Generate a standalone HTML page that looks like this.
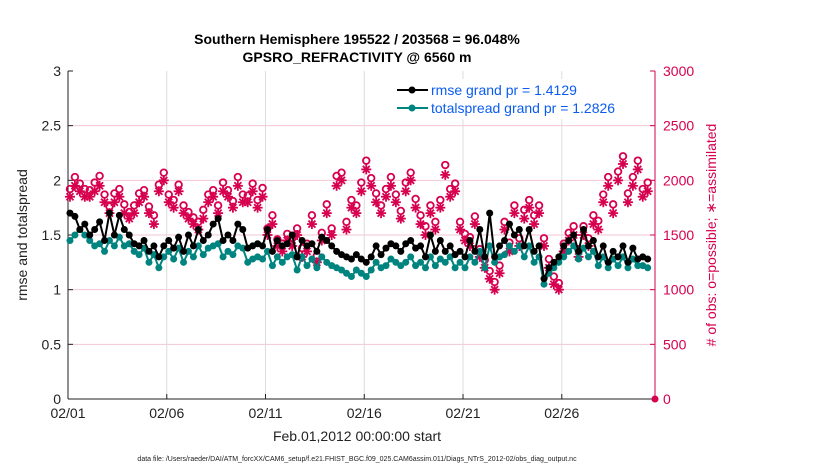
<!DOCTYPE html>
<html><head><meta charset="utf-8"><style>
body{margin:0;background:#fff;}
svg text{font-family:"Liberation Sans",sans-serif;}
</style></head><body>
<svg id="chart" width="830" height="470" xmlns="http://www.w3.org/2000/svg">
<rect width="830" height="470" fill="#fff"/>
<g id="grid"></g>
<g id="axes"></g>
<g id="series"></g>
<text x="357" y="44" text-anchor="middle" font-size="14" font-weight="bold">Southern Hemisphere 195522 / 203568 = 96.048%</text>
<text x="357" y="62" text-anchor="middle" font-size="14" font-weight="bold">GPSRO_REFRACTIVITY @ 6560 m</text>
<text x="357" y="441" text-anchor="middle" font-size="14" fill="#222">Feb.01,2012 00:00:00 start</text>
<text x="357" y="461" text-anchor="middle" font-size="7" fill="#222">data file: /Users/raeder/DAI/ATM_forcXX/CAM6_setup/f.e21.FHIST_BGC.f09_025.CAM6assim.011/Diags_NTrS_2012-02/obs_diag_output.nc</text>
<text transform="translate(27,235) rotate(-90)" text-anchor="middle" font-size="14" fill="#222">rmse and totalspread</text>
<text transform="translate(716,235) rotate(-90)" text-anchor="middle" font-size="14" fill="#d6004f"># of obs: o=possible; ∗=assimilated</text>
<g>
<rect x="388" y="79" width="264" height="40" fill="#fff"/>
<line x1="397" y1="90" x2="428" y2="90" stroke="#000" stroke-width="2"/><circle cx="412" cy="90" r="3.5" fill="#000"/>
<text x="431" y="95" font-size="14" fill="#0b5cf0">rmse grand pr = 1.4129</text>
<line x1="397" y1="108" x2="428" y2="108" stroke="#00847f" stroke-width="2"/><circle cx="412" cy="108" r="3.5" fill="#00847f"/>
<text x="431" y="113" font-size="14" fill="#0b5cf0">totalspread grand pr = 1.2826</text>
</g>
</svg>
<script>
const xTickLabels=["02/01","02/06","02/11","02/16","02/21","02/26"];
const xTickDays=[0,5,10,15,20,25];
const yLeftTicks=[0,0.5,1,1.5,2,2.5,3];
const yRightTicks=[0,500,1000,1500,2000,2500,3000];
const rmse=[1.7,1.67,1.55,1.6,1.5,1.55,1.62,1.45,1.7,1.5,1.68,1.55,1.5,1.42,1.4,1.45,1.35,1.4,1.3,1.4,1.45,1.38,1.48,1.35,1.5,1.4,1.55,1.45,1.5,1.6,1.65,1.45,1.5,1.45,1.6,1.55,1.38,1.4,1.42,1.4,1.55,1.35,1.45,1.4,1.42,1.5,1.3,1.45,1.4,1.42,1.35,1.48,1.45,1.4,1.35,1.32,1.3,1.28,1.32,1.28,1.25,1.3,1.4,1.32,1.38,1.42,1.4,1.35,1.42,1.45,1.38,1.4,1.3,1.5,1.35,1.45,1.35,1.4,1.32,1.35,1.3,1.45,1.35,1.55,1.3,1.7,1.3,1.4,1.45,1.6,1.5,1.55,1.4,1.55,1.35,1.4,1.1,1.2,1.25,1.3,1.4,1.45,1.5,1.35,1.55,1.4,1.45,1.3,1.4,1.25,1.35,1.3,1.4,1.25,1.38,1.28,1.3,1.28];
const spread=[1.45,1.5,1.55,1.5,1.45,1.4,1.42,1.35,1.45,1.4,1.48,1.4,1.42,1.35,1.32,1.38,1.25,1.32,1.2,1.3,1.35,1.28,1.38,1.25,1.35,1.3,1.4,1.32,1.38,1.4,1.42,1.3,1.35,1.32,1.4,1.38,1.25,1.28,1.3,1.28,1.35,1.22,1.3,1.25,1.3,1.32,1.18,1.3,1.22,1.28,1.2,1.3,1.25,1.22,1.2,1.18,1.15,1.12,1.18,1.15,1.12,1.18,1.25,1.2,1.22,1.28,1.25,1.22,1.25,1.3,1.22,1.25,1.2,1.3,1.22,1.28,1.25,1.3,1.2,1.25,1.2,1.3,1.25,1.35,1.2,1.4,1.25,1.3,1.32,1.4,1.35,1.4,1.3,1.4,1.25,1.3,1.05,1.15,1.2,1.25,1.3,1.35,1.4,1.28,1.38,1.3,1.35,1.22,1.3,1.2,1.28,1.22,1.3,1.2,1.28,1.22,1.22,1.2];
const assimilated=[1850,1950,1900,1850,1850,1900,1950,1800,1700,1800,1850,1700,1650,1700,1800,1850,1700,1600,1900,2000,1800,1750,1900,1700,1650,1600,1550,1650,1800,1850,1700,1900,1850,1750,1950,1800,1800,1900,1750,1850,1500,1600,1400,1350,1450,1400,1500,1300,1350,1600,1250,1450,1700,1500,1950,2000,1550,1750,1700,1900,2100,1950,1800,1700,1850,1950,1800,1650,1900,2000,1750,1600,1500,1700,1550,1750,2050,1850,1900,1550,1450,1400,1600,1300,1200,1100,1000,1150,1550,1350,1700,1400,1650,1750,1600,1700,1400,1200,1050,1000,1350,1450,1500,1300,1500,1400,1600,1550,1800,1950,1700,2000,2150,1800,1950,2100,1850,1900];
const possible=[1920,2030,1970,1920,1910,1980,2040,1870,1760,1880,1920,1780,1710,1770,1880,1910,1760,1680,1960,2070,1870,1820,1960,1770,1710,1660,1620,1730,1870,1910,1770,1980,1910,1810,2030,1870,1860,1970,1820,1930,1560,1680,1460,1420,1510,1470,1560,1380,1420,1680,1310,1520,1780,1560,2040,2070,1620,1820,1770,1980,2180,2020,1880,1770,1920,2030,1870,1720,1980,2070,1830,1680,1580,1770,1620,1820,2140,1920,1970,1620,1510,1480,1670,1370,1270,1170,1070,1220,1620,1430,1770,1470,1730,1820,1680,1770,1470,1280,1120,1060,1420,1520,1580,1370,1580,1470,1680,1630,1870,2030,1780,2080,2220,1880,2030,2180,1920,1980];

const L=68,R=655,T=71,B=399,DMAX=29.72;
const xs=d=>L+(d/DMAX)*(R-L);
const yl=v=>B-(v/3)*(B-T);
const yr=v=>B-(v/3000)*(B-T);
const NS="http://www.w3.org/2000/svg";
function mk(tag,attrs,parent){const e=document.createElementNS(NS,tag);for(const k in attrs)e.setAttribute(k,attrs[k]);parent.appendChild(e);return e;}
const grid=document.getElementById('grid'),axes=document.getElementById('axes'),ser=document.getElementById('series');

yLeftTicks.forEach((v,i)=>{
  if(v>0&&v<3){const g=mk('line',{x1:L,x2:R,y1:yl(v),y2:yl(v),stroke:'#f3c6d6','stroke-width':1},grid);
  
  }
  const t=mk('text',{x:L-7,y:yl(v)+5,'text-anchor':'end','font-size':14,fill:'#222'},axes);t.textContent=v;
  
  
  mk('line',{x1:L,x2:L+5,y1:yl(v),y2:yl(v),stroke:'#222'},axes);
});
yRightTicks.forEach(v=>{
  const t=mk('text',{x:R+8,y:yr(v)+5,'font-size':14,fill:'#d6004f'},axes);t.textContent=v;
  
  
  mk('line',{x1:R-5,x2:R,y1:yr(v),y2:yr(v),stroke:'#d6004f'},axes);
});
xTickDays.forEach((d,i)=>{
  if(d>0){const g=mk('line',{x1:xs(d),x2:xs(d),y1:T,y2:B,stroke:'#dcdcdc'},grid);
  
  }
  mk('line',{x1:xs(d),x2:xs(d),y1:B,y2:B-5,stroke:'#222'},axes);
  const t=mk('text',{x:xs(d),y:B+19,'text-anchor':'middle','font-size':14,fill:'#222'},axes);t.textContent=xTickLabels[i];
  
  
});
mk('line',{x1:L,x2:L,y1:T,y2:B,stroke:'#222'},axes);
mk('line',{x1:L,x2:R,y1:B,y2:B,stroke:'#222'},axes);
mk('line',{x1:R,x2:R,y1:T,y2:B,stroke:'#d6004f'},axes);

function star(cx,cy,parent){
  const g=mk('g',{stroke:'#d6004f','stroke-width':1.8},parent);
  
  
  const r=5;
  mk('line',{x1:cx-r,x2:cx+r,y1:cy,y2:cy},g);
  mk('line',{x1:cx,x2:cx,y1:cy-r,y2:cy+r},g);
  mk('line',{x1:cx-3.5,x2:cx+3.5,y1:cy-3.5,y2:cy+3.5},g);
  mk('line',{x1:cx-3.5,x2:cx+3.5,y1:cy+3.5,y2:cy-3.5},g);
}
possible.forEach((v,i)=>{
  const c=mk('circle',{cx:xs(i*0.25+0.1),cy:yr(v),r:3.3,fill:'none',stroke:'#d6004f','stroke-width':1.8},ser);
  
  
});
assimilated.forEach((v,i)=>star(xs(i*0.25+0.1),yr(v),ser));

function line(arr,color,name){
  const pts=arr.map((v,i)=>xs(i*0.25+0.1)+','+yl(v)).join(' ');
  const p=mk('polyline',{points:pts,fill:'none',stroke:color,'stroke-width':2},ser);
  
  
  arr.forEach((v,i)=>{
    const c=mk('circle',{cx:xs(i*0.25+0.1),cy:yl(v),r:3.5,fill:color},ser);
    
    
  });
}
line(spread,'#00847f','totalspread');
line(rmse,'#000','rmse');
const m=mk('circle',{cx:R,cy:B,r:3.5,fill:'#d6004f'},axes);


</script>
</body></html>
